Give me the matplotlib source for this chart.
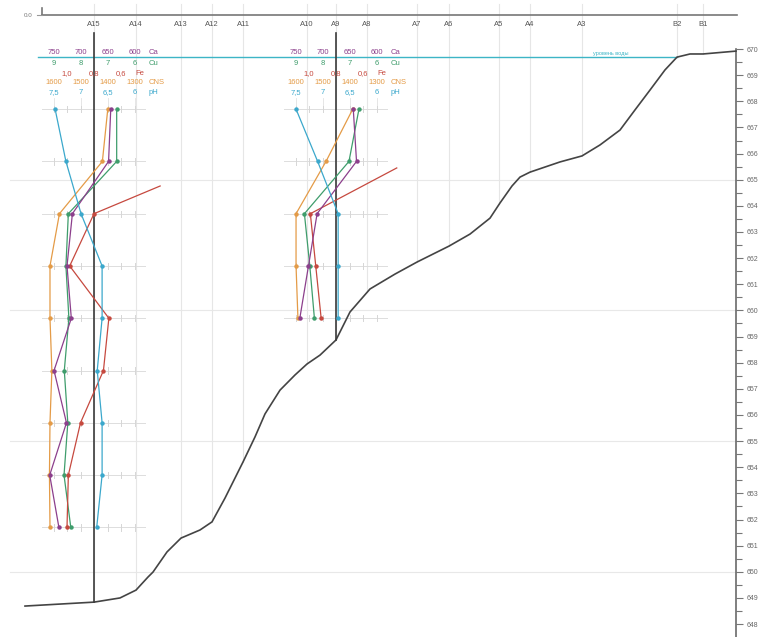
import numpy as np
import matplotlib.pyplot as plt
from matplotlib.ticker import FixedLocator

plt.rcParams['font.family'] = ['Liberation Sans', 'DejaVu Sans']

# stations along the section (distance, m)
stations = ["A15", "A14", "A13", "A12", "A11", "A10", "A9", "A8",
            "A7", "A6", "A5", "A4", "A3", "B2", "B1"]
station_dist = [52, 94, 139, 170, 201, 265, 294, 325, 375, 407, 457, 488, 540, 635, 661]

# ground surface
ground_dist = [-17, 52, 78, 94, 106, 111, 125, 139, 158, 170, 183, 201, 213, 223,
               238, 253, 265, 278, 294, 308, 328, 353, 375, 407, 428, 448, 458,
               470, 478, 488, 518, 540, 558, 578, 593, 608, 623, 635, 648, 661, 694]
ground_elev = [648.69, 648.84, 649.00, 649.30, 649.80, 649.99, 650.76, 651.29, 651.60,
               651.91, 652.82, 654.20, 655.16, 656.04, 656.95, 657.53, 657.95, 658.29,
               658.87, 659.94, 660.82, 661.39, 661.85, 662.46, 662.92, 663.53, 664.11,
               664.76, 665.10, 665.29, 665.68, 665.91, 666.33, 666.90, 667.67, 668.43,
               669.20, 669.69, 669.81, 669.81, 669.92]

water_level = 669.68

# borehole A15
a15_elev = [667.7, 665.7, 663.7, 661.7, 659.7, 657.7, 655.7, 653.7, 651.7]
a15_ca = [644, 648, 715, 725, 717, 749, 726, 757, 740]
a15_cu = [6.66, 6.66, 8.45, 8.54, 8.43, 8.60, 8.47, 8.61, 8.36]
a15_cns = [1399, 1419, 1578, 1613, 1613, 1606, 1613, 1615, 1613]
a15_ph = [7.47, 7.27, 6.99, 6.60, 6.60, 6.69, 6.60, 6.60, 6.70]
a15_fe_elev = [664.76, 663.7, 661.7, 659.7, 657.7, 655.7, 653.7, 651.7]
a15_fe = [0.31, 0.80, 0.98, 0.69, 0.73, 0.90, 0.99, 1.00]

# borehole A9
a9_elev = [667.7, 665.7, 663.7, 661.7, 659.7]
a9_ca = [643, 637, 710, 726, 742]
a9_cu = [6.65, 7.02, 8.67, 8.47, 8.30]
a9_cns = [1388, 1487, 1598, 1598, 1591]
a9_ph = [7.49, 7.09, 6.71, 6.71, 6.71]
a9_fe_elev = [665.45, 663.7, 661.7, 659.7]
a9_fe = [0.35, 0.99, 0.95, 0.91]

# scale per parameter: centre value, metres per unit, ticks, tick labels
scales = {
    "Ca":  (675, 0.54, [750, 700, 650, 600], ["750", "700", "650", "600"]),
    "Cu":  (7.5, 27, [9, 8, 7, 6], ["9", "8", "7", "6"]),
    "Fe":  (0.8, 135, [1.0, 0.8, 0.6], ["1,0", "0,8", "0,6"]),
    "CNS": (1450, 0.27, [1600, 1500, 1400, 1300], ["1600", "1500", "1400", "1300"]),
    "pH":  (6.75, 54, [7.5, 7, 6.5, 6], ["7,5", "7", "6,5", "6"]),
}
colors = {"Ca": "#8c3f8c", "Cu": "#3f9d6c", "Fe": "#c6493f",
          "CNS": "#e49b47", "pH": "#3ba8cc"}
header_elev = {"Ca": 669.85, "Cu": 669.43, "Fe": 669.08, "CNS": 668.70, "pH": 668.32}


def to_x(xb, name, values):
    c, k = scales[name][0], scales[name][1]
    return xb + (c - np.asarray(values, dtype=float)) * k


fig = plt.figure(figsize=(7.67, 6.37), dpi=100)
ax = fig.add_axes([0, 0, 1, 1])
ax.set_xlim(-42, 725)
ax.set_ylim(647.506, 671.875)

for s in ["top", "left", "bottom"]:
    ax.spines[s].set_visible(False)
ax.spines["right"].set_position(("data", 694))
ax.spines["right"].set_bounds(647.506, 670)
ax.spines["right"].set_color("#6a6a6a")
ax.spines["right"].set_linewidth(1.2)
ax.xaxis.set_visible(False)
ax.yaxis.set_ticks_position("right")
ax.yaxis.set_major_locator(FixedLocator(np.arange(648, 671)))
ax.yaxis.set_minor_locator(FixedLocator(np.arange(647.5, 670, 1.0)))
ax.yaxis.set_major_formatter(lambda v, p: f"{v:.0f}")
ax.tick_params(axis="y", which="major", length=5, width=0.8, color="#777777",
               labelsize=5, labelcolor="#666666", pad=3)
ax.tick_params(axis="y", which="minor", length=4, width=0.8, color="#777777")

# grid
for z in [650, 655, 660, 665]:
    ax.plot([-32, 694], [z, z], color="#e8e8e8", lw=0.8, zorder=0)
for name, d in zip(stations, station_dist):
    g = np.interp(d, ground_dist, ground_elev)
    ax.plot([d, d], [671.72, g], color="#e6e6e6", lw=0.8, zorder=0)
    ax.text(d, 670.95, name, ha="center", va="center", fontsize=5.5, color="#555555")

# top distance line
ax.plot([0, 695], [671.3, 671.3], color="#777777", lw=1.2, zorder=2)
ax.plot([0, 0], [671.3, 671.58], color="#777777", lw=1.2, zorder=2)
ax.plot([-5, 0], [671.3, 671.3], color="#999999", lw=0.8)
ax.text(-9, 671.3, "0.0", ha="right", va="center", fontsize=4.5, color="#777777")

# water level
w_end = np.interp(water_level, ground_elev[-8:], ground_dist[-8:])
ax.plot([-4, w_end], [water_level, water_level], color="#3db5c6", lw=1.0, zorder=3)
ax.text(551, 669.84, "уровень воды", fontsize=4, color="#3db5c6", va="center")

# ground surface
ax.plot(ground_dist, ground_elev, color="#444444", lw=1.2, zorder=4)

boreholes = [
    (52, a15_elev, a15_ca, a15_cu, a15_cns, a15_ph, a15_fe_elev, a15_fe),
    (294, a9_elev, a9_ca, a9_cu, a9_cns, a9_ph, a9_fe_elev, a9_fe),
]

for xb, elev, ca, cu, cns, ph, fe_elev, fe in boreholes:
    g = np.interp(xb, ground_dist, ground_elev)
    ax.plot([xb, xb], [670.62, g], color="#3a3a3a", lw=1.2, zorder=5)

    # scale headers
    for name, (c, k, ticks, labels) in scales.items():
        z = header_elev[name]
        tx = to_x(xb, name, ticks)
        for x, lab in zip(tx, labels):
            ax.text(x, z, lab, ha="center", va="center", fontsize=5.5,
                    color=colors[name], zorder=6)
        ax.text(tx[-1] + 14, z, name, ha="left", va="center", fontsize=5.5,
                color=colors[name], zorder=6)
    for off in [-40.5, -13.5, 13.5, 40.5]:
        ax.plot([xb + off, xb + off], [668.12, 667.7], color="#e2e2e2", lw=0.6, zorder=1)

    # sample crosses
    for z in elev:
        ax.plot([xb - 52, xb + 51], [z, z], color="#dddddd", lw=0.7, zorder=1)
        for off in [-40.5, -27, -13.5, 13.5, 27, 40.5]:
            ax.plot([xb + off, xb + off], [z - 0.12, z + 0.12], color="#d6d6d6",
                    lw=0.7, zorder=1)

    kw = dict(lw=0.9, marker="o", ms=2.2, zorder=7)
    ax.plot(to_x(xb, "CNS", cns), elev, color=colors["CNS"], **kw)
    ax.plot(to_x(xb, "Cu", cu), elev, color=colors["Cu"], **kw)
    ax.plot(to_x(xb, "Fe", fe), fe_elev, color=colors["Fe"],
            markevery=list(range(1, len(fe))), **kw)
    ax.plot(to_x(xb, "Ca", ca), elev, color=colors["Ca"], **kw)
    ax.plot(to_x(xb, "pH", ph), elev, color=colors["pH"], **kw)

fig.savefig("out.png", dpi=100)
